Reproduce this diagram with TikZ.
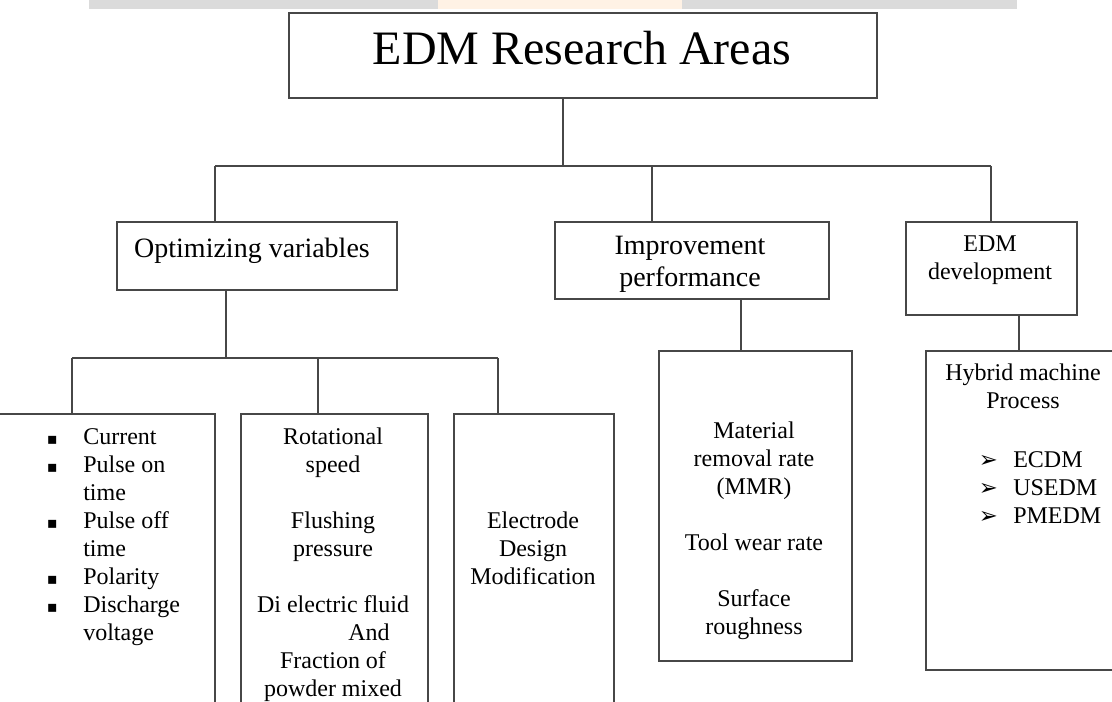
\documentclass[tikz,border=0pt]{standalone}
\usepackage{fontspec}
\setmainfont{Liberation Serif}
\newfontfamily\symfont{DejaVu Sans}
\newcommand{\sqmark}{\llap{\makebox[46.5pt][c]{\symfont\fontsize{12pt}{12pt}\selectfont ▪}}}
\newcommand{\arrmark}{\llap{\makebox[37.5pt][c]{\symfont\fontsize{17pt}{17pt}\selectfont ➢}}}
\tikzset{
  boxnode/.style={draw=black!72, line width=1.3pt, anchor=north west, inner sep=0pt},
  wire/.style={draw=black!72, line width=1.3pt},
  bodytext/.style={inner sep=0pt, align=center, font={\fontsize{18pt}{21pt}\selectfont}},
  headtext/.style={inner sep=0pt, align=center, font={\fontsize{21pt}{24pt}\selectfont}},
}
\begin{document}
\begin{tikzpicture}[x=0.75pt, y=-0.75pt]
      \useasboundingbox (0,0) rectangle (1112,702);
      \clip (0,0) rectangle (1112,702);
      \fill[gray!28] (89,0) rectangle (1017,9);
      \fill[orange!10] (438,0) rectangle (682,9);
      \node[boxnode, minimum width=441pt, minimum height=63.75pt] (edm) at (288,12) {};
      \node[boxnode, minimum width=210pt, minimum height=51pt] (opt) at (116,221) {};
      \node[boxnode, minimum width=205.5pt, minimum height=57.75pt] (imp) at (554,221) {};
      \node[boxnode, minimum width=128.25pt, minimum height=69.75pt] (dev) at (905,221) {};
      \node[boxnode, minimum width=175.5pt, minimum height=237.75pt] (var) at (-20,413) {};
      \node[boxnode, minimum width=140.25pt, minimum height=237.75pt] (flu) at (240,413) {};
      \node[boxnode, minimum width=120pt, minimum height=237.75pt] (ele) at (453,413) {};
      \node[boxnode, minimum width=144.75pt, minimum height=232.5pt] (mrr) at (658,350) {};
      \node[boxnode, minimum width=161.25pt, minimum height=239.25pt] (hyb) at (925,350) {};
      \node[inner sep=0pt, anchor=base, font={\fontsize{36pt}{40pt}\selectfont}] (edmT) at (582,65) {EDM Research Areas};
      \node[headtext, anchor=base] (optT) at (252,257) {Optimizing variables};
      \node[headtext, anchor=north] (impT) at (690,236) {Improvement\\performance};
      \node[bodytext, anchor=north] (devT) at (990,236) {EDM\\development};
      \node[bodytext, anchor=north west, align=left] (varT) at (83,428)
        {\sqmark Current\\\sqmark Pulse on\\time\\\sqmark Pulse off\\time\\\sqmark Polarity\\\sqmark Discharge\\voltage};
      \node[bodytext, anchor=north] (fluT) at (333,428)
        {Rotational\\speed\\[21pt]Flushing\\pressure\\[21pt]Di electric fluid\\\hspace*{54pt}And\\Fraction of\\powder mixed};
      \node[bodytext, anchor=north] (eleT) at (533,512) {Electrode\\Design\\Modification};
      \node[bodytext, anchor=north] (mrrT) at (754,422)
        {Material\\removal rate\\(MMR)\\[21pt]Tool wear rate\\[21pt]Surface\\roughness};
      \node[bodytext, anchor=north] (hybT) at (1023,364) {Hybrid machine\\Process};
      \node[bodytext, anchor=north west, align=left] (hybL) at (1013,451)
        {\arrmark ECDM\\\arrmark USEDM\\\arrmark PMEDM};
      \coordinate (busA) at (563,166);
      \coordinate (tapO) at (215,166);
      \coordinate (tapI) at (652,166);
      \coordinate (tapD) at (991,166);
      \coordinate (busB) at (226,358);
      \coordinate (tapV) at (72,358);
      \coordinate (tapF) at (318,358);
      \coordinate (tapE) at (498,358);
      \coordinate (dropM) at (741,324);
      \coordinate (dropH) at (1019,332);
      \begin{scope}[wire]
        \draw (edm.south -| busA) to (busA);
        \draw (tapO) to (tapD);
        \draw (tapO) to (opt.north -| tapO);
        \draw (tapI) to (imp.north -| tapI);
        \draw (tapD) to (dev.north -| tapD);
        \draw (opt.south -| busB) to (busB);
        \draw (tapV) to (tapE);
        \draw (tapV) to (var.north -| tapV);
        \draw (tapF) to (flu.north -| tapF);
        \draw (tapE) to (ele.north -| tapE);
        \draw (imp.south -| dropM) to (mrr.north -| dropM);
        \draw (dev.south -| dropH) to (hyb.north -| dropH);
      \end{scope}
    \end{tikzpicture}
\end{document}
